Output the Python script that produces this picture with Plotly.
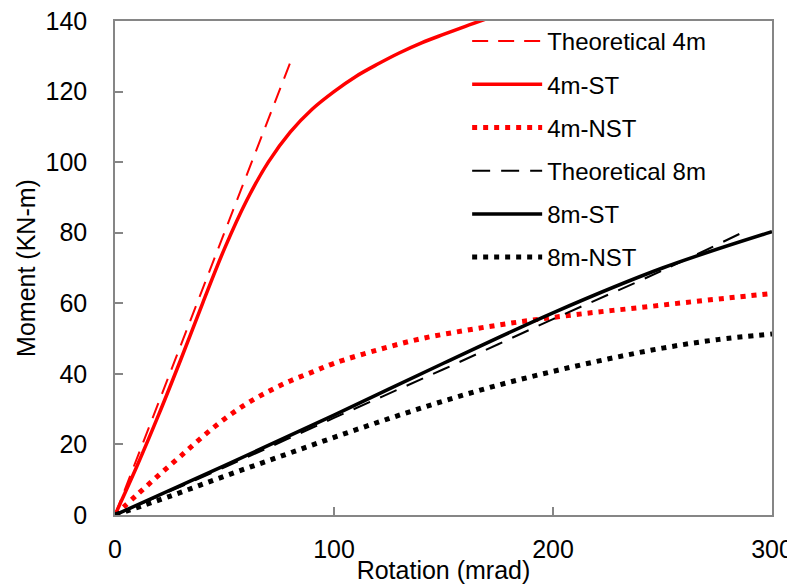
import plotly.graph_objects as go

# Theoretical 4m
th4_x = [0, 81.2]
th4_y = [0, 130.1]
# 4m-ST
st4_x = [0, 10, 20, 30, 40, 50, 60, 70, 80, 90, 100, 110, 120, 130, 140, 150, 160, 170]
st4_y = [0, 13.8, 28.5, 44, 60, 75.5, 89, 100, 108.5, 115, 120, 124.3, 127.8, 131, 133.8, 136.2, 138.5, 140.7]
# 4m-NST
nst4_x = [0, 10, 20, 30, 40, 50, 60, 70, 80, 90, 100, 120, 140, 160, 180, 200, 220, 240, 260, 280, 300]
nst4_y = [0, 5.7, 11.3, 16.7, 22.2, 27.2, 31.5, 35, 38, 40.5, 43, 46.8, 50, 52.3, 54.3, 56, 57.5, 58.8, 60.2, 61.5, 62.8]
# Theoretical 8m
th8_x = [0, 50, 100, 150, 200, 250, 288]
th8_y = [0, 13.5, 27.5, 41.3, 55.5, 69.3, 80.5]
# 8m-ST
st8_x = [0, 50, 100, 150, 200, 250, 300]
st8_y = [0, 14, 28.3, 43, 57.3, 70, 80.3]
# 8m-NST
nst8_x = [0, 25, 50, 75, 100, 125, 150, 175, 200, 225, 250, 275, 300]
nst8_y = [0, 5.3, 11, 16.5, 22, 27.3, 32.3, 36.8, 40.7, 44.2, 47.3, 49.7, 51.3]

x_ticks = [0, 100, 200, 300]
y_ticks = [0, 20, 40, 60, 80, 100, 120, 140]

RED = "#FF0000"
BLK = "#000000"
DOT = "5px,6px"
DASH_R = "16px,10px"
DASH_K = "18px,11px"

series = [
    ("Theoretical 4m", th4_x, th4_y, RED, 2, DASH_R),
    ("4m-ST", st4_x, st4_y, RED, 3.5, "solid"),
    ("4m-NST", nst4_x, nst4_y, RED, 5, DOT),
    ("Theoretical 8m", th8_x, th8_y, BLK, 2, DASH_K),
    ("8m-ST", st8_x, st8_y, BLK, 3.5, "solid"),
    ("8m-NST", nst8_x, nst8_y, BLK, 5, DOT),
]

fig = go.Figure()
for i, (name, xs, ys, col, w, dash) in enumerate(series):
    fig.add_trace(go.Scatter(
        x=xs, y=ys, name=name, mode="lines", legendgroup=f"g{i}",
        line=dict(color=col, width=w, dash=dash, shape="spline", smoothing=1.0),
    ))

FONT = "Liberation Sans, Arial, sans-serif"
FS = 25
axis_common = dict(
    showline=True, linecolor="#868686", linewidth=1.5, mirror=True,
    ticks="inside", ticklen=8, tickwidth=1.5, tickcolor="#868686",
    showgrid=False, zeroline=False, automargin=False,
    ticklabeloverflow="allow",
    tickfont=dict(family=FONT, size=FS, color="#000000"),
)

fig.update_layout(
    width=787, height=580,
    margin=dict(l=107, r=23, t=11, b=73),
    paper_bgcolor="white", plot_bgcolor="white",
    font=dict(family=FONT, size=FS, color="#000000"),
    showlegend=True,
    legend=dict(
        x=0.536, y=1.004, xanchor="left", yanchor="top",
        bgcolor="rgba(0,0,0,0)", itemwidth=70, tracegroupgap=9,
        traceorder="grouped",
        font=dict(family=FONT, size=24, color="#000000"),
    ),
    xaxis=dict(range=[0, 300], tickvals=x_ticks, ticklabelstandoff=11,
               title=dict(text="Rotation (mrad)", standoff=0,
                          font=dict(family=FONT, size=FS)),
               **axis_common),
    yaxis=dict(range=[0, 140], tickvals=y_ticks, ticklabelstandoff=21,
               title=dict(text="Moment (KN-m)", standoff=3,
                          font=dict(family=FONT, size=FS)),
               **axis_common),
)

fig.write_html("out.html")
